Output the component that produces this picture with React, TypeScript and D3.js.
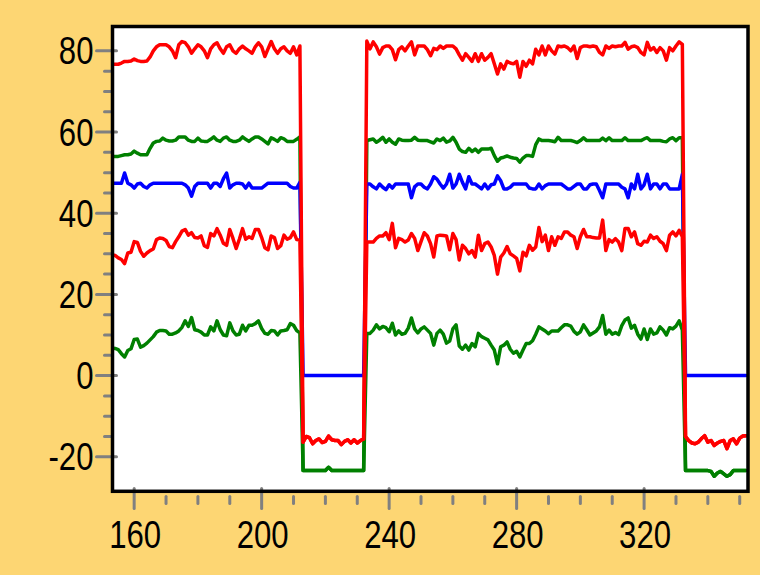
import React from "react";
import * as d3 from "d3";

const X_START = 153;

const redTop: number[] = [
  76.7, 76.7, 76.7, 77.0, 77.4, 77.4, 77.5, 78.0, 77.6, 77.4,
  77.4, 77.5, 78.5, 80.0, 81.0, 81.5, 81.5, 81.5, 81.0, 80.0,
  78.3, 81.5, 82.3, 82.0, 81.0, 79.4, 80.5, 81.5, 81.0, 80.0,
  78.3, 80.5, 81.5, 82.0, 80.5, 79.4, 81.0, 81.5, 80.0, 79.4,
  80.5, 81.2, 80.5, 80.0, 79.4, 81.0, 82.0, 81.0, 78.6, 80.5,
  82.3, 80.5, 79.4, 80.5, 81.0, 80.0, 79.4, 81.0, 79.0, 81.2,
  -16.4, -15.0, -15.3, -16.8, -16.0, -15.6, -16.5, -16.2, -14.9, -15.8,
  -16.0, -16.0, -17.0, -16.2, -15.8, -16.6, -15.8, -16.6, -16.0, -15.6,
  82.4, 80.5, 82.2, 81.0, 79.2, 80.8, 81.2, 81.2, 80.3,
  77.8, 80.3, 81.0, 80.0, 81.2, 82.2, 79.0, 81.2, 81.2, 81.2,
  80.3, 78.8, 80.6, 80.3, 81.2, 80.6, 81.2, 81.2, 81.2, 80.5,
  79.0, 77.7, 79.3, 78.4, 77.4, 79.3, 77.4, 79.3, 77.7, 78.4,
  79.3, 76.8, 74.3, 76.8, 75.5, 77.4, 77.0, 76.8, 77.4, 73.5,
  77.4, 76.2, 77.7, 76.8, 80.4, 79.0, 81.2, 79.0, 81.2, 80.0,
  79.2, 81.2, 81.0, 81.2, 80.8, 80.0, 81.2, 78.1, 80.8, 81.2,
  81.2, 81.0, 81.2, 81.0, 79.6, 79.0, 81.2, 80.6, 81.2, 81.0,
  81.2, 81.2, 82.1, 80.4, 81.0, 81.2, 80.8, 79.6, 79.0, 82.1,
  80.2, 80.8, 79.6, 80.8, 80.0, 77.7, 80.8, 80.0, 81.2, 82.2, 81.6,
  -15.0, -16.0, -16.6, -16.8, -16.4, -15.5, -14.8, -16.4, -16.0, -17.2,
  -16.6, -16.2, -16.0, -18.0, -16.0, -15.6, -16.8, -15.4, -14.9, -14.8,
];

const redLow: number[] = [
  29.8, 29.6, 29.0, 28.6, 27.6, 30.2, 30.4, 33.0, 32.8, 30.6,
  29.4, 30.2, 30.8, 31.2, 33.5, 33.9, 33.8, 33.3, 31.8, 31.5,
  33.0, 34.2, 35.6, 36.0, 34.6, 35.2, 34.0, 33.9, 34.4, 32.0,
  31.6, 35.0, 34.4, 36.2, 34.6, 32.6, 32.1, 36.0, 33.8, 31.3,
  33.6, 36.2, 33.6, 34.2, 33.8, 36.0, 36.0, 34.0, 31.5, 31.0,
  34.4, 34.0, 31.3, 32.0, 34.6, 33.6, 34.0, 35.4, 33.5, 33.4,
  -16.4, -15.0, -15.3, -16.8, -16.0, -15.6, -16.5, -16.2, -14.9, -15.8,
  -16.0, -16.0, -17.0, -16.2, -15.8, -16.6, -15.8, -16.6, -16.0, -15.6,
  32.9, 32.9, 32.9, 33.8, 34.4, 34.4, 35.2, 33.5, 37.5,
  31.5, 33.8, 33.5, 32.9, 33.4, 35.0, 33.8, 30.8, 33.0, 35.2,
  34.4, 32.5, 29.2, 34.4, 34.6, 34.5, 34.4, 31.0, 35.0, 33.5,
  28.5, 32.1, 31.3, 30.0, 30.8, 29.2, 34.6, 30.8, 32.5, 32.9,
  31.7, 29.6, 25.0, 29.2, 30.2, 31.8, 30.0, 29.5, 28.9, 25.8,
  30.4, 29.5, 32.1, 30.9, 31.7, 36.5, 33.0, 34.6, 30.8, 34.2,
  32.1, 34.2, 33.8, 35.4, 35.4, 34.6, 34.2, 31.3, 34.2, 36.0,
  34.2, 34.2, 34.0, 33.9, 33.9, 38.3, 30.8, 33.5, 32.9, 33.75,
  32.9, 30.8, 36.25, 36.25, 34.2, 35.4, 32.5, 32.1, 33.1, 32.9,
  34.6, 33.8, 34.2, 33.1, 32.5, 30.8, 34.6, 35.4, 34.4, 35.8, 34.2,
  -15.0, -16.0, -16.6, -16.8, -16.4, -15.5, -14.8, -16.4, -16.0, -17.2,
  -16.6, -16.2, -16.0, -18.0, -16.0, -15.6, -16.8, -15.4, -14.9, -14.8,
];

const greenTop: number[] = [
  54.0, 54.0, 54.0, 54.2, 54.4, 54.4, 54.6, 55.3, 54.8, 54.4,
  54.4, 54.4, 56.0, 57.3, 57.7, 57.8, 58.5, 58.0, 57.8, 57.8,
  58.0, 58.8, 58.8, 58.8, 58.0, 57.7, 57.7, 58.5, 57.8, 57.7,
  57.7, 58.2, 58.8, 58.0, 57.7, 58.5, 58.8, 58.0, 57.7, 57.7,
  58.0, 58.8, 58.2, 57.7, 58.3, 58.8, 58.8, 58.3, 57.7, 57.1,
  58.6, 58.2, 57.7, 58.6, 58.3, 57.7, 57.7, 57.7, 58.2, 58.8,
  -23.4, -23.4, -23.4, -23.4, -23.4, -23.4, -23.4, -23.4, -22.6, -23.4,
  -23.4, -23.4, -23.4, -23.4, -23.4, -23.4, -23.4, -23.4, -23.4, -23.4,
  57.9, 58.1, 58.3, 57.5, 58.0, 58.7, 57.5, 58.3, 57.5, 57.0,
  58.3, 58.0, 57.9, 57.9, 58.0, 58.7, 58.0, 57.9, 57.9, 57.9,
  57.6, 57.3, 58.3, 57.9, 58.5, 57.5, 57.8, 58.7, 57.5, 55.8,
  55.2, 55.0, 56.0, 55.2, 55.8, 55.0, 55.8, 55.8, 55.8, 56.0,
  54.2, 52.8, 53.6, 53.8, 54.1, 53.8, 53.6, 53.5, 52.6, 53.6,
  54.2, 54.2, 54.0, 56.9, 58.3, 57.9, 57.9, 57.9, 57.8, 57.6,
  58.7, 57.9, 57.9, 57.9, 57.9, 57.7, 57.4, 57.9, 58.6, 57.9,
  57.9, 57.9, 57.9, 57.9, 58.5, 57.9, 58.6, 57.9, 57.9, 57.9,
  57.9, 58.6, 57.9, 57.9, 57.9, 57.9, 57.9, 58.3, 58.6, 57.9,
  57.9, 57.9, 57.9, 57.7, 57.6, 58.3, 58.6, 57.9, 58.6, 58.6,
  -23.4, -23.4, -23.4, -23.4, -23.4, -23.4, -23.4, -23.4, -23.6, -24.8,
  -24.0, -23.6, -24.2, -24.8, -24.4, -23.4, -23.4, -23.4, -23.4, -23.4,
];

const greenLow: number[] = [
  6.8, 6.7, 6.4, 5.4, 4.6, 6.2, 6.6, 8.9, 9.0, 7.0,
  7.4, 8.0, 8.8, 9.6, 10.7, 11.1, 11.1, 11.0, 10.2, 10.2,
  10.5, 11.0, 11.9, 13.5, 12.1, 14.3, 11.3, 11.1, 10.7, 10.0,
  10.0, 12.0, 11.0, 13.5, 11.3, 10.0, 9.8, 13.0, 11.0, 10.0,
  10.2, 12.4, 11.0, 12.4, 12.4, 12.8, 13.5, 11.6, 10.4, 10.2,
  11.1, 11.0, 10.0, 11.0, 11.1, 11.3, 12.8, 12.4, 11.1, 10.5,
  -23.4, -23.4, -23.4, -23.4, -23.4, -23.4, -23.4, -23.4, -22.6, -23.4,
  -23.4, -23.4, -23.4, -23.4, -23.4, -23.4, -23.4, -23.4, -23.4, -23.4,
  10.4, 10.4, 11.2, 12.5, 11.5, 12.1, 11.8, 10.8, 12.9, 10.0,
  11.0, 10.2, 10.4, 11.7, 14.2, 11.5, 10.5, 11.5, 12.0, 11.2,
  10.4, 7.5, 10.4, 11.2, 10.2, 8.0, 8.5, 11.5, 12.5, 7.3,
  6.5, 7.5, 6.3, 7.9, 7.1, 10.4, 9.6, 9.2, 8.8, 7.5,
  6.3, 2.9, 7.1, 7.5, 8.3, 6.5, 5.5, 6.0, 4.6, 6.3,
  7.9, 7.9, 8.6, 10.2, 12.0, 11.5, 11.0, 10.3, 11.0, 11.0,
  11.0, 11.8, 12.5, 12.5, 12.2, 10.9, 10.2, 10.8, 12.5, 11.3,
  10.0, 10.5, 11.0, 12.0, 14.8, 10.2, 11.2, 10.2, 10.6, 10.1,
  12.3, 13.7, 14.2, 11.7, 12.4, 10.2, 9.0, 11.5, 8.9, 11.5,
  10.2, 10.5, 12.0, 11.2, 10.0, 11.8, 11.5, 12.2, 13.5, 11.2,
  -23.4, -23.4, -23.4, -23.4, -23.4, -23.4, -23.4, -23.4, -23.6, -24.8,
  -24.0, -23.6, -24.2, -24.8, -24.4, -23.4, -23.4, -23.4, -23.4, -23.4,
];

const blue: number[] = [
  47.4, 47.4, 47.4, 47.4, 49.9, 47.4, 47.0, 46.2, 47.2, 47.4,
  46.6, 46.2, 47.0, 47.4, 47.4, 47.4, 47.4, 47.4, 47.4, 47.4,
  47.4, 47.4, 47.4, 47.0, 46.2, 44.2, 46.6, 47.4, 47.4, 47.4,
  47.4, 46.2, 47.4, 47.4, 46.6, 48.5, 49.9, 46.2, 47.0, 47.4,
  47.4, 47.2, 46.2, 47.4, 46.2, 46.2, 46.2, 46.2, 46.8, 47.4,
  47.4, 47.4, 47.4, 47.4, 47.4, 47.4, 46.6, 46.2, 46.2, 47.6,
  0, 0, 0, 0, 0, 0, 0, 0, 0, 0,
  0, 0, 0, 0, 0, 0, 0, 0, 0, 0,
  47.2, 47.2, 46.5, 46.0, 47.2, 46.4, 45.8, 47.0, 46.2,
  47.2, 47.2, 47.2, 47.2, 47.2, 43.8, 46.5, 47.2, 47.2, 46.4,
  46.0, 47.2, 49.0, 48.4, 47.2, 46.2, 47.2, 49.6, 46.2, 47.2,
  49.6, 47.6, 46.0, 49.0, 47.2, 47.2, 46.6, 46.0, 47.2, 46.0,
  47.0, 47.2, 49.2, 48.0, 46.0, 46.0, 46.4, 47.2, 47.2, 47.2,
  47.2, 47.2, 46.2, 46.0, 46.0, 47.2, 46.0, 46.8, 47.2, 47.2,
  47.2, 47.2, 47.2, 46.6, 46.0, 46.0, 46.6, 47.2, 47.2, 46.0,
  46.0, 47.0, 47.2, 47.2, 45.6, 43.8, 47.2, 47.2, 47.2, 47.2,
  47.2, 46.4, 46.0, 43.8, 47.2, 46.0, 49.6, 46.0, 47.0, 49.6,
  46.0, 47.2, 47.2, 46.0, 47.2, 47.2, 46.0, 46.0, 46.0, 46.0, 49.6,
  0, 0, 0, 0, 0, 0, 0, 0, 0, 0,
  0, 0, 0, 0, 0, 0, 0, 0, 0, 0,
];

const xMajorTicks = [160, 200, 240, 280, 320];
const xMinorTicks = [170, 180, 190, 210, 220, 230, 250, 260, 270, 290, 300, 310, 330, 340, 350];
const yMajorTicks = [-20, 0, 20, 40, 60, 80];
const yMinorTicks = [-15, -10, -5, 5, 10, 15, 25, 30, 35, 45, 50, 55, 65, 70, 75];

const seriesOrder = [
  { name: "greenTop", values: greenTop, color: "#008000" },
  { name: "greenLow", values: greenLow, color: "#008000" },
  { name: "blue", values: blue, color: "#0000ff" },
  { name: "redLow", values: redLow, color: "#ff0000" },
  { name: "redTop", values: redTop, color: "#ff0000" },
];

const W = 760;
const H = 575;
const L = 112.5, R = 748, T = 26.5, B = 491.3;

export default function App() {
  const x = d3.scaleLinear().domain([153.2, 352.6]).range([L, R]);
  const y = d3.scaleLinear().domain([-28.5, 86.0]).range([B, T]);
  const line = d3
    .line<number>()
    .x((_, i) => x(X_START + i))
    .y((v) => y(v));

  const fontFamily = "'Liberation Sans', Arial, sans-serif";
  const tickColor = "#808080";

  return (
    <svg
      width={W}
      height={H}
      style={{ position: "absolute", left: 0, top: 0, display: "block" }}
    >
      <rect x={0} y={0} width={W} height={H} fill="#fdd673" />
      <defs>
        <clipPath id="plotClip">
          <rect x={L} y={T} width={R - L} height={B - T} />
        </clipPath>
      </defs>
      <rect x={L} y={T} width={R - L} height={B - T} fill="#ffffff" />

      {yMajorTicks.map((t) => (
        <line key={"ym" + t} x1={96.5} x2={116.5} y1={y(t)} y2={y(t)}
          stroke={tickColor} strokeWidth={3} strokeLinecap="round" />
      ))}
      {yMinorTicks.map((t) => (
        <line key={"yn" + t} x1={104.5} x2={110.5} y1={y(t)} y2={y(t)}
          stroke={tickColor} strokeWidth={3} strokeLinecap="round" />
      ))}
      {xMajorTicks.map((t) => (
        <line key={"xm" + t} x1={x(t)} x2={x(t)} y1={488.5} y2={508.5}
          stroke={tickColor} strokeWidth={3} strokeLinecap="round" />
      ))}
      {xMinorTicks.map((t) => (
        <line key={"xn" + t} x1={x(t)} x2={x(t)} y1={496.5} y2={503.5}
          stroke={tickColor} strokeWidth={3} strokeLinecap="round" />
      ))}

      <g clipPath="url(#plotClip)">
        {seriesOrder.map((s) => (
          <path key={s.name} d={line(s.values) || ""} fill="none"
            stroke={s.color} strokeWidth={3.5} strokeLinejoin="round" strokeLinecap="round" />
        ))}
      </g>

      <rect x={L} y={T} width={R - L} height={B - T} fill="none" stroke="#000" strokeWidth={3.5} />

      {yMajorTicks.map((t) => (
        <text key={"yl" + t}
          transform={`translate(93.5, ${y(t) + 13.6}) scale(0.82, 1)`}
          textAnchor="end" fontFamily={fontFamily} fontSize={38} fill="#000">
          {String(t)}
        </text>
      ))}
      {xMajorTicks.map((t) => (
        <text key={"xl" + t}
          transform={`translate(${x(t) + 1}, 547.7) scale(0.82, 1)`}
          textAnchor="middle" fontFamily={fontFamily} fontSize={38} fill="#000">
          {String(t)}
        </text>
      ))}
    </svg>
  );
}
